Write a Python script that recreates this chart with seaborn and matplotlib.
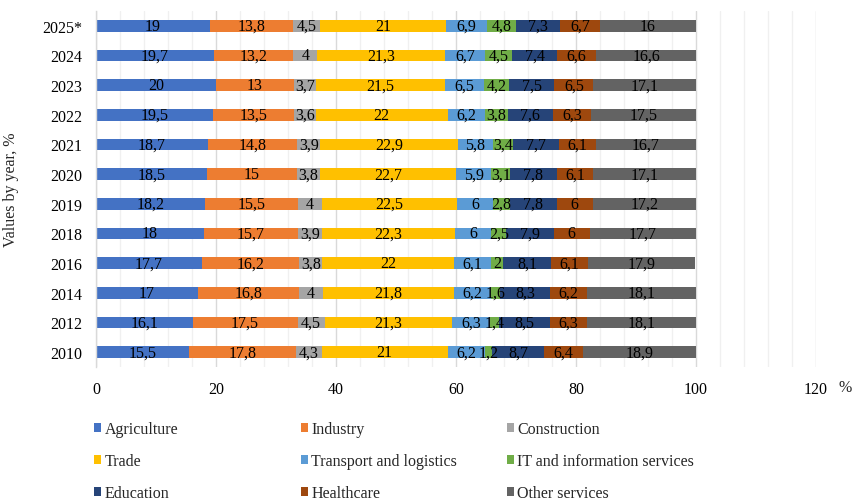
import numpy as np
import matplotlib.pyplot as plt
import seaborn as sns
from matplotlib.patches import Patch

# data, top bar first
years = ["2025*", "2024", "2023", "2022", "2021", "2020", "2019", "2018", "2016", "2014", "2012", "2010"]

agriculture = [19, 19.7, 20, 19.5, 18.7, 18.5, 18.2, 18, 17.7, 17, 16.1, 15.5]
industry = [13.8, 13.2, 13, 13.5, 14.8, 15, 15.5, 15.7, 16.2, 16.8, 17.5, 17.8]
construction = [4.5, 4, 3.7, 3.6, 3.9, 3.8, 4, 3.9, 3.8, 4, 4.5, 4.3]
trade = [21, 21.3, 21.5, 22, 22.9, 22.7, 22.5, 22.3, 22, 21.8, 21.3, 21]
transport = [6.9, 6.7, 6.5, 6.2, 5.8, 5.9, 6, 6, 6.1, 6.2, 6.3, 6.2]
it_services = [4.8, 4.5, 4.2, 3.8, 3.4, 3.1, 2.8, 2.5, 2, 1.6, 1.4, 1.2]
education = [7.3, 7.4, 7.5, 7.6, 7.7, 7.8, 7.8, 7.9, 8.1, 8.3, 8.5, 8.7]
healthcare = [6.7, 6.6, 6.5, 6.3, 6.1, 6.1, 6, 6, 6.1, 6.2, 6.3, 6.4]
other = [16, 16.6, 17.1, 17.5, 16.7, 17.1, 17.2, 17.7, 17.9, 18.1, 18.1, 18.9]

sectors = ["Agriculture", "Industry", "Construction", "Trade", "Transport and logistics",
           "IT and information services", "Education", "Healthcare", "Other services"]
series = [agriculture, industry, construction, trade, transport, it_services,
          education, healthcare, other]
colors = ["#4472C4", "#ED7D31", "#A5A5A5", "#FFC000", "#5B9BD5",
          "#70AD47", "#264478", "#9E480E", "#636363"]

sns.set_style("white")
plt.rcParams["font.family"] = ["Liberation Serif", "DejaVu Serif"]
FS = 11.5

fig, ax = plt.subplots(figsize=(8.54, 5.02), dpi=100)
fig.subplots_adjust(left=96 / 854, right=816 / 854, top=1 - 12 / 502, bottom=1 - 368 / 502)

# stacked bars
left = np.zeros(len(years))
for name, vals, col in zip(sectors, series, colors):
    sns.barplot(x=vals, y=years, order=years, orient="h", left=left, color=col,
                saturation=1, width=0.4, linewidth=0, errorbar=None, ax=ax)
    labels = [f"{v:g}".replace(".", ",") for v in vals]
    ax.bar_label(ax.containers[-1], labels=labels, label_type="center",
                 fontsize=FS, color="black")
    left = left + np.array(vals)

# axes styling
ax.set_xlim(0, 120)
ax.set_xticks(range(0, 121, 20))
ax.set_xticks(range(0, 121, 4), minor=True)
ax.grid(axis="x", which="major", color="#d9d9d9", linewidth=1)
ax.grid(axis="x", which="minor", color="#f0f0f0", linewidth=1)
ax.grid(axis="y", visible=False)
ax.set_axisbelow(True)
for s in ["top", "right", "bottom"]:
    ax.spines[s].set_visible(False)
ax.spines["left"].set_color("#d9d9d9")
ax.spines["left"].set_linewidth(1)
ax.tick_params(axis="both", which="both", length=0, labelsize=FS, colors="black")
ax.tick_params(axis="y", pad=10)
ax.tick_params(axis="x", pad=10)
ax.set_xlabel("")
ax.set_ylabel("Values by year, %", fontsize=FS)
ax.yaxis.set_label_coords(-77 / 720, 0.5)

fig.text(845 / 854, 1 - 388 / 502, "%", fontsize=FS, ha="center", va="center")

ax.set_ylim(len(years) - 0.5, -0.5)
ax.set_xlim(0, 120)

# legend, three columns filled row by row
col_x = [94, 301, 507]
for c in range(3):
    idx = [c, c + 3, c + 6]
    handles = [Patch(facecolor=colors[i], edgecolor="none") for i in idx]
    fig.legend(handles, [sectors[i] for i in idx], loc="upper left",
               bbox_to_anchor=(col_x[c] / 854, 1 - 422 / 502), frameon=False,
               fontsize=FS, handlelength=0.45, handleheight=0.45, handletextpad=0.2,
               labelspacing=1.0, borderpad=0, borderaxespad=0)

fig.savefig("out.png", dpi=100)
